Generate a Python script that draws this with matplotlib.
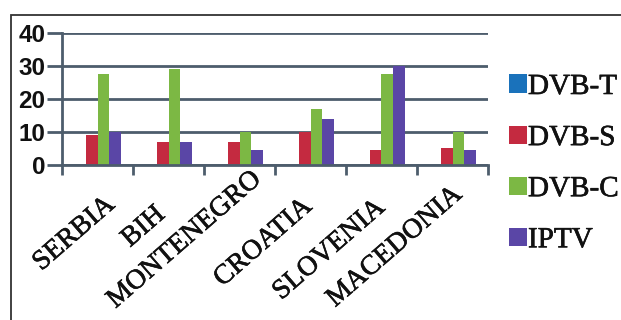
import matplotlib.pyplot as plt
import matplotlib.patheffects as pe
import numpy as np
from matplotlib.patches import Rectangle

# TV platform counts per country
countries = ['SERBIA', 'BIH', 'MONTENEGRO', 'CROATIA', 'SLOVENIA', 'MACEDONIA']
dvb_t = [0, 0, 0, 0, 0, 0]
dvb_s = [9, 7, 7, 10, 4.5, 5.2]
dvb_c = [27.5, 29, 10, 17, 27.5, 10]
iptv = [10, 7, 4.5, 14, 30, 4.5]

series = [('DVB-T', dvb_t, '#1a72bb'),
          ('DVB-S', dvb_s, '#c42a40'),
          ('DVB-C', dvb_c, '#7cb844'),
          ('IPTV', iptv, '#5a46a6')]

# where each rotated label ends, in pixels from its category centre on the axis
label_nudge = {'SERBIA': (6, -27), 'BIH': (-15, -37), 'MONTENEGRO': (10, -2),
               'CROATIA': (-10, -29), 'SLOVENIA': (-8, -30), 'MACEDONIA': (-2, -17)}

grid_col = '#4d5d6c'
heavy = [pe.withStroke(linewidth=0.45, foreground='#111111')]

fig = plt.figure(figsize=(6.21, 3.2), dpi=100)
# outer chart frame
fig.patches.append(Rectangle((11 / 621, -0.1), 1.0, 1.1 - 15 / 320, transform=fig.transFigure,
                             fill=False, edgecolor='#333333', linewidth=1.3))
ax = fig.add_axes([62 / 621, 155 / 320, (488 - 62) / 621, 132 / 320])

x = np.arange(len(countries))
w = 0.168
for i, (name, vals, col) in enumerate(series):
    ax.bar(x + (i - 1.5) * w, vals, w, color=col, label=name, zorder=3)

ax.set_xlim(-0.5, len(countries) - 0.5)
ax.set_ylim(0, 40)
ax.set_yticks([0, 10, 20, 30, 40])
ax.yaxis.grid(True, color=grid_col, linewidth=2, zorder=0)
for s in ['top', 'right']:
    ax.spines[s].set_visible(False)
ax.spines['left'].set_color(grid_col)
ax.spines['left'].set_linewidth(2)
ax.spines['bottom'].set_color(grid_col)
ax.spines['bottom'].set_linewidth(2)
ax.spines['bottom'].set_zorder(4)

ax.tick_params(axis='y', length=11, width=2, color=grid_col, pad=1)
for t in ax.get_yticklabels():
    t.set_fontfamily('Liberation Sans')
    t.set_fontweight('bold')
    t.set_fontsize(17.5)
    t.set_color('#111111')

# boundary ticks on x, labels at category centres
ax.set_xticks(np.arange(-0.5, len(countries), 1.0))
ax.set_xticklabels([])
ax.tick_params(axis='x', length=7, width=2, color=grid_col)
for xi, name in zip(x, countries):
    dx, dy = label_nudge[name]
    ax.annotate(name, xy=(xi, 0), xycoords=('data', 'axes fraction'),
                xytext=(dx, dy), textcoords='offset pixels',
                rotation=41, ha='right', va='top', rotation_mode='anchor',
                fontfamily='Liberation Serif', fontsize=20, color='#111111',
                path_effects=heavy)

leg = fig.legend(loc='upper left', bbox_to_anchor=(509 / 621, 1 - 74 / 320),
                 frameon=False, prop={'family': 'Liberation Serif', 'size': 21},
                 handlelength=0.6, handleheight=0.6, handletextpad=0.05,
                 labelspacing=0.86, borderaxespad=0, borderpad=0)
for t in leg.get_texts():
    t.set_color('#111111')
    t.set_path_effects(heavy)

fig.savefig('out.png', dpi=100)
